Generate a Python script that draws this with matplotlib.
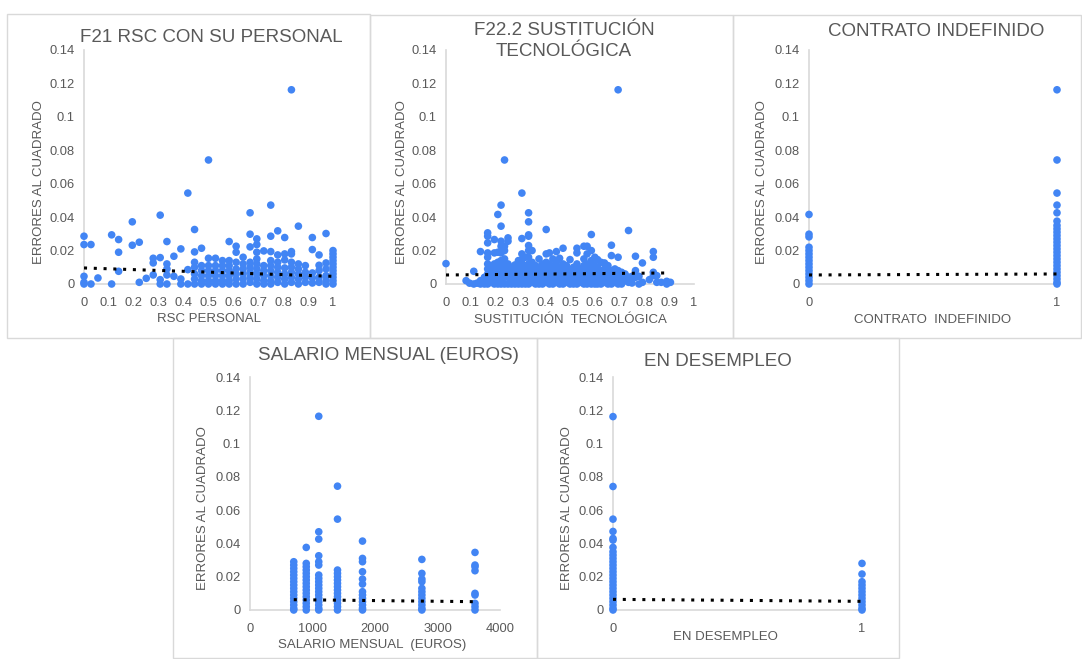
import numpy as np
import matplotlib
matplotlib.use("Agg")
import matplotlib.pyplot as plt
from matplotlib.patches import Rectangle

plt.rcParams['font.family'] = ['Liberation Sans', 'DejaVu Sans']

W, H = 1082, 659
BLUE = '#4285F4'
GRAY = '#595959'
AXIS = '#D9D9D9'

# ---- data: squared errors by value of each variable (column x -> list of y) ----
rsc_x = [0.0, 0.028, 0.056, 0.111, 0.139, 0.194, 0.222, 0.25, 0.278, 0.306, 0.333, 0.361,
         0.389, 0.417, 0.444, 0.472, 0.5, 0.528, 0.556, 0.583, 0.611, 0.639, 0.667, 0.694,
         0.722, 0.75, 0.778, 0.806, 0.833, 0.861, 0.889, 0.917, 0.944, 0.972, 1.0]
rsc_y = [[0.0286, 0.0236, 0.0046, 0.001, 0.0], [0.0236, 0.0], [0.0036], [0.0294, 0.0],
         [0.0266, 0.019, 0.0076], [0.0372, 0.0232], [0.025, 0.001], [0.0034],
         [0.0154, 0.0126, 0.0054], [0.0412, 0.0158, 0.0026, 0.0],
         [0.0254, 0.012, 0.009, 0.0054, 0.0], [0.0166, 0.0046], [0.021, 0.003, 0.0],
         [0.0544, 0.0086, 0.0], [0.0326, 0.0192, 0.013, 0.01, 0.006, 0.003, 0.0],
         [0.0214, 0.011, 0.008, 0.005, 0.002, 0.0],
         [0.0742, 0.0154, 0.011, 0.008, 0.005, 0.002, 0.0],
         [0.0154, 0.011, 0.008, 0.005, 0.002, 0.0], [0.014, 0.011, 0.008, 0.005, 0.002, 0.0],
         [0.0254, 0.014, 0.011, 0.008, 0.005, 0.002, 0.0],
         [0.0226, 0.019, 0.013, 0.009, 0.006, 0.003, 0.0],
         [0.016, 0.012, 0.009, 0.006, 0.003, 0.0],
         [0.0426, 0.0298, 0.0222, 0.013, 0.01, 0.007, 0.004, 0.001],
         [0.027, 0.0236, 0.019, 0.015, 0.012, 0.009, 0.006, 0.003, 0.0],
         [0.0198, 0.011, 0.008, 0.005, 0.002, 0.0],
         [0.0472, 0.0286, 0.0194, 0.014, 0.011, 0.008, 0.005, 0.002, 0.0],
         [0.0318, 0.0174, 0.013, 0.01, 0.007, 0.004, 0.001],
         [0.0278, 0.018, 0.0144, 0.0096, 0.006, 0.003, 0.0],
         [0.1162, 0.0194, 0.018, 0.013, 0.01, 0.007, 0.004, 0.001],
         [0.0346, 0.012, 0.009, 0.006, 0.003, 0.0], [0.011, 0.007, 0.004, 0.001],
         [0.0278, 0.0206, 0.0066, 0.0036, 0.0006], [0.0174, 0.0112, 0.008, 0.004, 0.001],
         [0.0302, 0.0126, 0.009, 0.005, 0.002, 0.0],
         [0.02, 0.018, 0.016, 0.014, 0.012, 0.01, 0.008, 0.006, 0.004, 0.002, 0.0]]

sust_x = [0.0, 0.081, 0.095, 0.112, 0.125, 0.139, 0.155, 0.168, 0.18, 0.195, 0.209, 0.222,
          0.236, 0.25, 0.264, 0.278, 0.292, 0.306, 0.32, 0.333, 0.347, 0.361, 0.375, 0.389,
          0.404, 0.417, 0.431, 0.445, 0.458, 0.472, 0.486, 0.5, 0.514, 0.528, 0.542, 0.556,
          0.569, 0.586, 0.6, 0.611, 0.625, 0.639, 0.653, 0.667, 0.681, 0.694, 0.708, 0.722,
          0.736, 0.75, 0.764, 0.778, 0.792, 0.82, 0.836, 0.85, 0.868, 0.89, 0.905]
sust_y = [[0.0122], [0.002], [0.0005], [0.0076, 0.0], [0.0005], [0.0194, 0.002, 0.0],
          [0.004, 0.0],
          [0.0306, 0.0286, 0.0246, 0.0186, 0.016, 0.012, 0.009, 0.006, 0.003, 0.0],
          [0.01, 0.008, 0.004, 0.001], [0.0266, 0.0186, 0.012, 0.009, 0.006, 0.003, 0.0],
          [0.0416, 0.019, 0.013, 0.01, 0.006, 0.002, 0.0],
          [0.0472, 0.0346, 0.0256, 0.0226, 0.0186, 0.014, 0.01, 0.006, 0.003, 0.0],
          [0.0742, 0.0226, 0.02, 0.015, 0.011, 0.008, 0.004, 0.0],
          [0.0276, 0.0256, 0.012, 0.008, 0.004, 0.0], [0.01, 0.006, 0.002, 0.0],
          [0.0114, 0.008, 0.004, 0.0], [0.014, 0.01, 0.006, 0.002, 0.0],
          [0.0544, 0.0272, 0.018, 0.0146, 0.012, 0.008, 0.004, 0.0],
          [0.016, 0.011, 0.007, 0.003, 0.0],
          [0.0426, 0.0372, 0.0294, 0.0286, 0.023, 0.02, 0.016, 0.012, 0.008, 0.004, 0.0],
          [0.02, 0.013, 0.009, 0.005, 0.001], [0.011, 0.007, 0.003, 0.0],
          [0.015, 0.01, 0.006, 0.002, 0.0], [0.012, 0.008, 0.004, 0.0],
          [0.0326, 0.018, 0.013, 0.009, 0.005, 0.001], [0.0186, 0.012, 0.008, 0.004, 0.0],
          [0.015, 0.0106, 0.006, 0.002, 0.0], [0.0194, 0.013, 0.009, 0.005, 0.001],
          [0.0154, 0.01, 0.006, 0.002, 0.0], [0.0214, 0.012, 0.008, 0.004, 0.0],
          [0.011, 0.009, 0.005, 0.001], [0.0146, 0.008, 0.004, 0.0], [0.01, 0.006, 0.002, 0.0],
          [0.0214, 0.0186, 0.012, 0.008, 0.004, 0.0], [0.009, 0.005, 0.001],
          [0.0226, 0.015, 0.011, 0.007, 0.003, 0.0], [0.0226, 0.018, 0.012, 0.008, 0.004, 0.0],
          [0.0296, 0.02, 0.014, 0.01, 0.006, 0.002, 0.0], [0.016, 0.011, 0.007, 0.003, 0.0],
          [0.0146, 0.01, 0.006, 0.002, 0.0], [0.013, 0.008, 0.004, 0.0],
          [0.0126, 0.009, 0.005, 0.001], [0.011, 0.007, 0.003, 0.0],
          [0.0232, 0.017, 0.008, 0.004, 0.0], [0.009, 0.005, 0.001],
          [0.1162, 0.016, 0.008, 0.004, 0.0], [0.007, 0.003, 0.0], [0.006, 0.002],
          [0.032, 0.004, 0.001], [0.0046, 0.0006], [0.0166, 0.008, 0.004], [0.0046, 0.0],
          [0.0126, 0.001], [0.0026], [0.0194, 0.016, 0.007, 0.005], [0.005, 0.001], [0.001],
          [0.0016, 0.0], [0.001]]

contrato_x = [0, 1]
contrato_y = [[0.0416, 0.0298, 0.0282, 0.022, 0.02, 0.018, 0.016, 0.014, 0.012, 0.01,
               0.008, 0.006, 0.004, 0.002, 0.0],
              [0.1162, 0.0742, 0.0544, 0.0472, 0.0426, 0.0376, 0.035, 0.033, 0.031, 0.029,
               0.027, 0.025, 0.023, 0.021, 0.019, 0.017, 0.015, 0.013, 0.011, 0.009, 0.007,
               0.005, 0.003, 0.001, 0.0]]

salario_x = [700, 900, 1100, 1400, 1800, 2750, 3600]
salario_y = [[0.029, 0.027, 0.025, 0.023, 0.021, 0.019, 0.017, 0.015, 0.013, 0.011, 0.009,
              0.007, 0.005, 0.003, 0.001, 0.0],
             [0.0376, 0.028, 0.026, 0.024, 0.022, 0.02, 0.018, 0.016, 0.014, 0.012, 0.01,
              0.008, 0.006, 0.004, 0.002, 0.0],
             [0.1164, 0.047, 0.0426, 0.0326, 0.029, 0.027, 0.021, 0.019, 0.017, 0.015, 0.013,
              0.011, 0.009, 0.007, 0.005, 0.003, 0.001, 0.0],
             [0.0744, 0.0546, 0.024, 0.022, 0.02, 0.018, 0.016, 0.014, 0.012, 0.01, 0.008,
              0.006, 0.004, 0.002, 0.0],
             [0.0414, 0.031, 0.029, 0.023, 0.0186, 0.0156, 0.011, 0.009, 0.007, 0.005, 0.003,
              0.001, 0.0],
             [0.0304, 0.022, 0.0186, 0.017, 0.013, 0.011, 0.009, 0.007, 0.005, 0.003, 0.001,
              0.0],
             [0.0346, 0.027, 0.026, 0.0236, 0.01, 0.009, 0.004, 0.002, 0.0]]

desempleo_x = [0, 1]
desempleo_y = [[0.1162, 0.0742, 0.0546, 0.0472, 0.043, 0.042, 0.0376, 0.035, 0.033, 0.031,
                0.029, 0.027, 0.025, 0.023, 0.021, 0.019, 0.017, 0.015, 0.013, 0.011, 0.009,
                0.007, 0.005, 0.003, 0.001, 0.0],
               [0.028, 0.0216, 0.017, 0.015, 0.013, 0.011, 0.009, 0.007, 0.005, 0.003, 0.001,
                0.0]]

# linear trend lines (start x, end x, start y, end y)
trend_rsc = [0.0, 1.0, 0.0096, 0.0046]
trend_sust = [0.0, 0.89, 0.0054, 0.0066]
trend_contrato = [0.0, 1.0, 0.0054, 0.006]
trend_salario = [700, 3600, 0.0062, 0.005]
trend_desempleo = [0.0, 1.0, 0.0064, 0.0052]

y_ticks = [0, 0.02, 0.04, 0.06, 0.08, 0.1, 0.12, 0.14]
y_ticklabels = ['0', '0.02', '0.04', '0.06', '0.08', '0.1', '0.12', '0.14']
dec_ticks = [0, 0.1, 0.2, 0.3, 0.4, 0.5, 0.6, 0.7, 0.8, 0.9, 1]
dec_labels = ['0', '0.1', '0.2', '0.3', '0.4', '0.5', '0.6', '0.7', '0.8', '0.9', '1']


def fx(px):
    return px / W


def fy(py):
    return 1 - py / H


fig = plt.figure(figsize=(W / 100, H / 100), dpi=100)

# panel frames (px: left, top, right, bottom)
frames = [(7, 14, 370, 338), (370, 15, 733, 338), (733, 15, 1081, 338),
          (173, 338, 537, 658), (537, 338, 899, 658)]
for l, t, r, b in frames:
    fig.patches.append(Rectangle((fx(l), fy(b)), fx(r - l), (b - t) / H,
                                 transform=fig.transFigure, fill=False,
                                 edgecolor=AXIS, lw=1))


def panel(box, xs, ys, trend, xlim, xticks, xlabels, title, title_pos, xlabel, xlabel_pos,
          ylabel_pos):
    x0, y0, x1, y1 = box  # px: left, top, right, bottom of plot area
    ax = fig.add_axes([fx(x0), fy(y1), fx(x1 - x0), (y1 - y0) / H])
    px, py = [], []
    for x, col in zip(xs, ys):
        px += [x] * len(col)
        py += col
    ax.scatter(px, py, s=30, color=BLUE, edgecolors='none', clip_on=False, zorder=3)
    ax.plot(trend[:2], trend[2:], color='black', ls=(0, (1, 2.2)), lw=2.2, zorder=4)
    ax.set_xlim(*xlim)
    ax.set_ylim(0, 0.14)
    ax.set_yticks(y_ticks)
    ax.set_yticklabels(y_ticklabels)
    ax.set_xticks(xticks)
    ax.set_xticklabels(xlabels)
    ax.tick_params(length=0, labelsize=9.3, labelcolor=GRAY)
    ax.tick_params(axis='x', pad=9)
    ax.tick_params(axis='y', pad=7)
    for s in ['top', 'right']:
        ax.spines[s].set_visible(False)
    for s in ['left', 'bottom']:
        ax.spines[s].set_color(AXIS)
        ax.spines[s].set_linewidth(1.2)
    ax.patch.set_alpha(0)
    fig.text(fx(title_pos[0]), fy(title_pos[1]), title, ha='center', va='center',
             fontsize=13.5, color=GRAY, linespacing=1.3)
    fig.text(fx(xlabel_pos[0]), fy(xlabel_pos[1]), xlabel, ha='center', va='center',
             fontsize=9.5, color=GRAY)
    fig.text(fx(ylabel_pos[0]), fy(ylabel_pos[1]), 'ERRORES AL CUADRADO', ha='center',
             va='center', rotation=90, fontsize=9.5, color=GRAY)
    return ax


panel((84, 50, 333, 284), rsc_x, rsc_y, trend_rsc, (0, 1), dec_ticks, dec_labels,
      'F21 RSC CON SU PERSONAL', (211, 37), 'RSC PERSONAL', (209, 319), (39, 182))
panel((446, 50, 694, 284), sust_x, sust_y, trend_sust, (0, 1), dec_ticks, dec_labels,
      'F22.2 SUSTITUCIÓN\nTECNOLÓGICA', (564, 41), 'SUSTITUCIÓN  TECNOLÓGICA', (570, 320),
      (402, 182))
panel((809, 50, 1057, 284), contrato_x, contrato_y, trend_contrato, (0, 1), [0, 1],
      ['0', '1'], 'CONTRATO INDEFINIDO', (936, 32), 'CONTRATO  INDEFINIDO', (933, 320),
      (762, 182))
panel((250, 377, 500, 610), salario_x, salario_y, trend_salario, (0, 4000),
      [0, 1000, 2000, 3000, 4000], ['0', '1000', '2000', '3000', '4000'],
      'SALARIO MENSUAL (EUROS)', (388, 355), 'SALARIO MENSUAL  (EUROS)', (372, 645),
      (203, 508))
panel((613, 377, 862, 610), desempleo_x, desempleo_y, trend_desempleo, (0, 1), [0, 1],
      ['0', '1'], 'EN DESEMPLEO', (718, 362), 'EN DESEMPLEO', (725, 637), (567, 508))

fig.savefig('out.png', dpi=100)
